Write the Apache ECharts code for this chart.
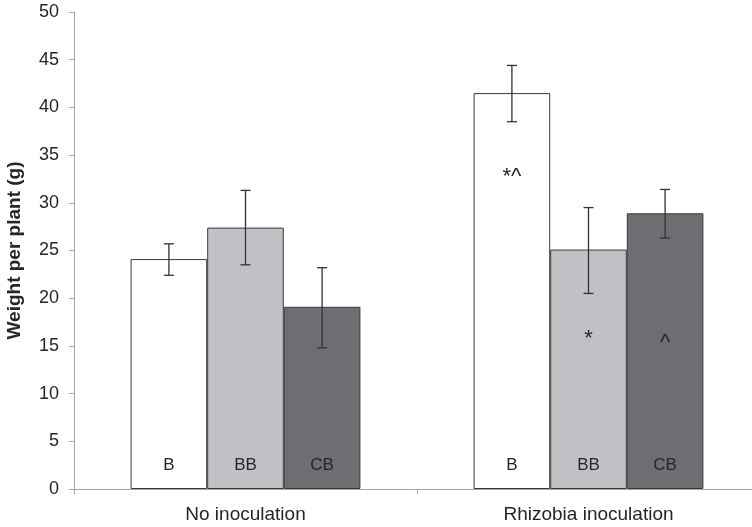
<!DOCTYPE html>
<html>
<head>
<meta charset="utf-8">
<script src="https://cdn.jsdelivr.net/npm/echarts@6/dist/echarts.min.js"></script>
<style>html,body{margin:0;padding:0;background:#fff}#c{width:752px;height:527px}</style>
</head>
<body>
<div id="c"></div>
<script>
// ---- data ----
const categories = ['No inoculation', 'Rhizobia inoculation'];
const seriesNames = ['B', 'BB', 'CB'];
const valuesB  = [24.1, 41.5];
const valuesBB = [27.4, 25.1];
const valuesCB = [19.1, 28.9];
const errLowB  = [22.4, 38.5];
const errHighB = [25.7, 44.4];
const errLowBB  = [23.5, 20.5];
const errHighBB = [31.3, 29.5];
const errLowCB  = [14.8, 26.3];
const errHighCB = [23.2, 31.4];
const annotB  = ['', '*^'];
const annotBB = ['', '*'];
const annotCB = ['', '^'];
const annotAtB  = [0, 32.7];
const annotAtBB = [0, 15.7];
const annotAtCB = [0, 15.3];
const yTicks = [0, 5, 10, 15, 20, 25, 30, 35, 40, 45, 50];

// ---- styling ----
const fills = ['#ffffff', '#c0c1c5', '#6d6e72'];
const gapRatio = 0.33;
const textFont = '"Liberation Sans", Arial, sans-serif';

const values = [valuesB, valuesBB, valuesCB];
const lows = [errLowB, errLowBB, errLowCB];
const highs = [errHighB, errHighBB, errHighCB];
const annots = [annotB, annotBB, annotCB];
const annotAts = [annotAtB, annotAtBB, annotAtCB];

const chart = echarts.init(document.getElementById('c'));

const barSeries = seriesNames.map((name, s) => ({
  type: 'bar',
  name: name,
  data: values[s],
  barGap: '0%',
  barCategoryGap: (gapRatio * 100) + '%',
  itemStyle: { color: fills[s], borderColor: '#3a3a3a', borderWidth: 1 },
  label: {
    show: true, position: 'insideBottom', distance: 15,
    formatter: () => name,
    fontFamily: textFont, fontSize: 17, color: '#262626'
  },
  emphasis: { disabled: true },
  z: 2
}));

function offsetFor(api, s) {
  const band = api.size([1, 0])[0];
  const bw = band * (1 - gapRatio) / 3;
  return (s - 1) * bw;
}

const errSeries = seriesNames.map((name, s) => ({
  type: 'custom',
  name: name + ' err',
  data: categories.map((c, i) => [i, lows[s][i], highs[s][i]]),
  renderItem: function (params, api) {
    const cat = api.value(0);
    const lo = api.coord([cat, api.value(1)]);
    const hi = api.coord([cat, api.value(2)]);
    const x = lo[0] + offsetFor(api, s);
    const cap = 5;
    const st = { stroke: '#333333', lineWidth: 1.3 };
    return {
      type: 'group',
      children: [
        { type: 'line', shape: { x1: x, y1: lo[1], x2: x, y2: hi[1] }, style: st },
        { type: 'line', shape: { x1: x - cap, y1: lo[1], x2: x + cap, y2: lo[1] }, style: st },
        { type: 'line', shape: { x1: x - cap, y1: hi[1], x2: x + cap, y2: hi[1] }, style: st }
      ]
    };
  },
  silent: true,
  z: 5
}));

const annSeries = seriesNames.map((name, s) => ({
  type: 'custom',
  name: name + ' ann',
  data: categories.map((c, i) => [i, annotAts[s][i]]),
  renderItem: function (params, api) {
    const i = params.dataIndex;
    const txt = annots[s][i];
    if (!txt) return null;
    const p = api.coord([i, annotAts[s][i]]);
    const x = p[0] + offsetFor(api, s);
    return {
      type: 'text',
      x: x, y: p[1],
      style: {
        text: txt,
        align: 'center', verticalAlign: 'middle',
        fill: '#262626',
        font: '22px ' + textFont
      }
    };
  },
  silent: true,
  z: 6
}));

chart.setOption({
  animation: false,
  backgroundColor: '#ffffff',
  grid: { left: 74, top: 12, width: 686, height: 477, outerBoundsMode: 'none', containLabel: false },
  xAxis: {
    type: 'category',
    data: categories,
    axisLine: { show: true, lineStyle: { color: '#a6a6a6', width: 1 } },
    axisTick: { show: true, alignWithLabel: false, length: 5, lineStyle: { color: '#a6a6a6' } },
    axisLabel: { fontFamily: textFont, fontSize: 19, color: '#262626', margin: 16 },
    splitLine: { show: false }
  },
  yAxis: {
    type: 'value',
    min: yTicks[0], max: yTicks[yTicks.length - 1], interval: yTicks[1] - yTicks[0],
    name: 'Weight per plant (g)',
    nameLocation: 'middle',
    nameGap: 50,
    nameTextStyle: { fontFamily: textFont, fontSize: 19, fontWeight: 'bold', color: '#262626' },
    axisLine: { show: true, lineStyle: { color: '#a6a6a6', width: 1 } },
    axisTick: { show: true, length: 5, lineStyle: { color: '#a6a6a6' } },
    axisLabel: { fontFamily: textFont, fontSize: 18, color: '#262626', margin: 15 },
    splitLine: { show: false }
  },
  tooltip: { show: false },
  legend: { show: false },
  series: [...barSeries, ...errSeries, ...annSeries]
});
</script>
</body>
</html>
